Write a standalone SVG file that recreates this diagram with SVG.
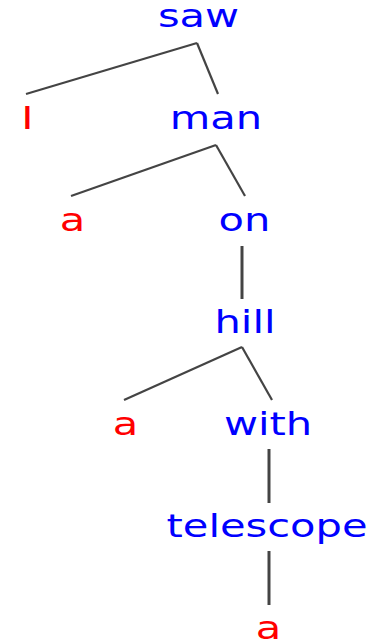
<svg xmlns="http://www.w3.org/2000/svg" width="383" height="643" viewBox="0 0 383 643">
<style>
text{font-family:"DejaVu Sans",sans-serif;font-size:32px;text-anchor:middle}
.h{fill:#0000ff}
.d{fill:#ff0000}
#edges line{stroke:#444;stroke-width:2.2;stroke-linecap:butt}
</style>
<rect width="383" height="643" fill="#fff"/>
<g id="edges">
<line x1="197" y1="43" x2="26" y2="94"/>
<line x1="197" y1="43" x2="218" y2="94"/>
<line x1="216" y1="145" x2="71" y2="196"/>
<line x1="216" y1="145" x2="245" y2="196"/>
<line x1="242" y1="246" x2="242" y2="299" style="stroke-width:3"/>
<line x1="242" y1="347" x2="124" y2="400"/>
<line x1="242" y1="347" x2="272" y2="400"/>
<line x1="269" y1="449" x2="269" y2="503" style="stroke-width:3"/>
<line x1="269" y1="551" x2="269" y2="605" style="stroke-width:3"/>
</g>
<g id="n-saw" transform="translate(198.5 27) scale(1.3 1)"><text class="h">saw</text></g>
<g id="n-I" transform="translate(27.5 129) scale(1.3 1)"><text class="d">I</text></g>
<g id="n-man" transform="translate(216 129) scale(1.3 1)"><text class="h">man</text></g>
<g id="n-a1" transform="translate(72.5 231) scale(1.3 1)"><text class="d">a</text></g>
<g id="n-on" transform="translate(244.5 231) scale(1.3 1)"><text class="h">on</text></g>
<g id="n-hill" transform="translate(245 333) scale(1.3 1)"><text class="h">hill</text></g>
<g id="n-a2" transform="translate(125.5 435) scale(1.3 1)"><text class="d">a</text></g>
<g id="n-with" transform="translate(268 435) scale(1.3 1)"><text class="h">with</text></g>
<g id="n-telescope" transform="translate(267 537) scale(1.3 1)"><text class="h">telescope</text></g>
<g id="n-a3" transform="translate(268.5 639) scale(1.3 1)"><text class="d">a</text></g>
</svg>
